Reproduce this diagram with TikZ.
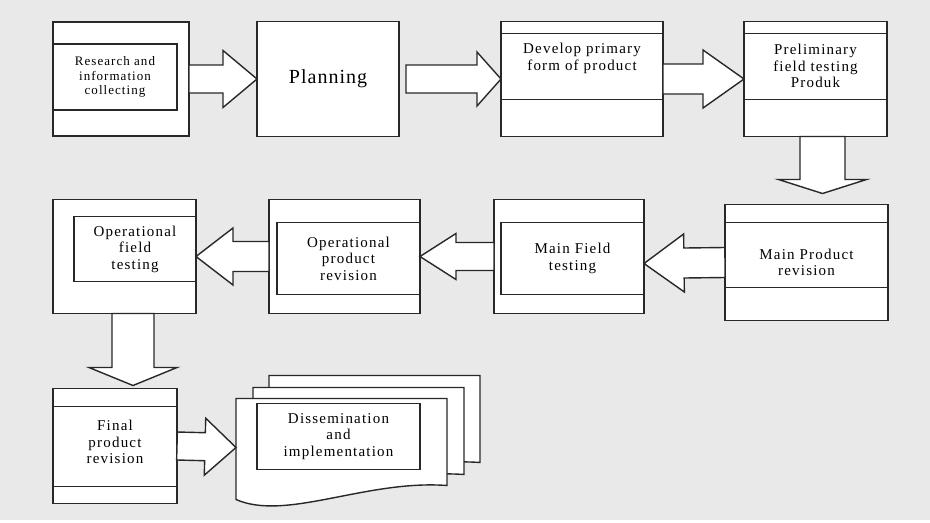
\documentclass[tikz,border=0pt]{standalone}
\usepackage{fontspec}
\newfontfamily\boxfont[LetterSpace=8]{Liberation Serif}
\newfontfamily\bigfont[LetterSpace=5]{Liberation Serif}
\usetikzlibrary{positioning,calc}

\definecolor{bggray}{RGB}{233,233,233}
\definecolor{linegray}{RGB}{40,40,40}

\tikzset{
  outer/.style={draw=linegray, fill=white, line width=1.4pt, inner sep=0pt, outer sep=0pt},
  inner/.style={draw=linegray, line width=1.4pt, inner sep=0pt, outer sep=0pt, align=center,
    font=\boxfont\fontsize{15}{16.5}\selectfont},
  txt/.style={align=center, inner sep=0pt, font=\boxfont\fontsize{15}{16.5}\selectfont},
  band/.style={draw=linegray, line width=1.4pt},
  fat/.style={draw=linegray, fill=white, line width=1.4pt, line join=miter},
  doc/.style={draw=linegray, fill=white, line width=1.4pt}
}

% block arrow: from, to, half shaft, half head, head length
\newcommand{\fatarrow}[5]{%
  \coordinate (fa) at ($(#2)!#5!(#1)$);
  \draw[fat] ($(#1)!#3!90:(#2)$) -- ($(fa)!#3!90:(#2)$) -- ($(fa)!#4!90:(#2)$) -- (#2)
    -- ($(fa)!#4!-90:(#2)$) -- ($(fa)!#3!-90:(#2)$) -- ($(#1)!#3!-90:(#2)$) -- cycle;
}

\begin{document}
\begin{tikzpicture}[x=1pt, y=1pt]
  \fill[bggray] (0,0) rectangle (930,-520);

  % top row
  \node[outer, minimum width=136pt, minimum height=114pt] (res) at (121,-79) {};
  \node[inner, minimum width=124pt, minimum height=66pt, anchor=north west,
    font=\boxfont\fontsize{13}{14.5}\selectfont] (restxt) at ([yshift=-22pt]res.north west)
    {Research and\\information\\collecting};
  \node[outer, minimum width=142pt, minimum height=115pt, right=68pt of res,
    font=\bigfont\fontsize{20}{24}\selectfont] (plan) {Planning};
  \node[outer, minimum width=162pt, minimum height=115pt, right=102pt of plan] (dev) {};
  \draw[band] ([yshift=-12pt]dev.north west) -- ([yshift=-12pt]dev.north east)
    ([yshift=37pt]dev.south west) -- ([yshift=37pt]dev.south east);
  \node[txt] (devtxt) at ([yshift=20.5pt]dev.center) {Develop primary\\form of product};
  \node[outer, minimum width=143pt, minimum height=115pt, right=81pt of dev] (pre) {};
  \draw[band] ([yshift=-12pt]pre.north west) -- ([yshift=-12pt]pre.north east)
    ([yshift=37pt]pre.south west) -- ([yshift=37pt]pre.south east);
  \node[txt] (pretxt) at ([yshift=13pt]pre.center) {Preliminary\\field testing\\Produk};

  % middle row
  \node[outer, minimum width=163pt, minimum height=116pt, below=68pt of pre, xshift=-9pt] (mp) {};
  \draw[band] ([yshift=-18pt]mp.north west) -- ([yshift=-18pt]mp.north east)
    ([yshift=33pt]mp.south west) -- ([yshift=33pt]mp.south east);
  \node[txt] (mptxt) at (mp.center) {Main Product\\revision};
  \node[outer, minimum width=150pt, minimum height=114pt, left=81pt of mp, yshift=6pt] (mf) {};
  \node[inner, minimum width=143pt, minimum height=72pt, anchor=north east] (mftxt)
    at ([yshift=-23pt]mf.north east) {Main Field\\testing};
  \node[outer, minimum width=151pt, minimum height=114pt, left=74pt of mf] (opr) {};
  \node[inner, minimum width=143pt, minimum height=72pt, anchor=north east] (oprtxt)
    at ([yshift=-23pt]opr.north east) {Operational\\product\\revision};
  \node[outer, minimum width=143pt, minimum height=114pt, left=73pt of opr] (oft) {};
  \node[inner, minimum width=122pt, minimum height=65pt, anchor=north east] (ofttxt)
    at ([yshift=-17pt]oft.north east) {Operational\\field\\testing};

  % bottom row
  \node[outer, minimum width=124pt, minimum height=115pt, below=75pt of oft, xshift=-9.5pt] (fin) {};
  \draw[band] ([yshift=-18pt]fin.north west) -- ([yshift=-18pt]fin.north east)
    ([yshift=17pt]fin.south west) -- ([yshift=17pt]fin.south east);
  \node[txt] (fintxt) at ([yshift=4pt]fin.center) {Final\\product\\revision};
  \coordinate[right=59pt of fin, yshift=-1.5pt] (docfront);
  \foreach \dx/\dy in {33/23, 17/11, 0/0}
    \draw[doc, shift={(docfront)}, xshift=\dx, yshift=\dy]
      (0,49) -- (211,49) -- (211,-38) .. controls (130,-32) and (50,-74) .. (0,-52) -- cycle;
  \node[inner, minimum width=163pt, minimum height=66pt] (distxt)
    at ([shift={(102.5,11)}]docfront) {Dissemination\\and\\implementation};

  % block arrows
  \fatarrow{res.east}{plan.west}{14pt}{28.5pt}{34pt}
  \fatarrow{[xshift=7pt]plan.east}{dev.west}{14pt}{27pt}{24pt}
  \fatarrow{dev.east}{pre.west}{15pt}{29pt}{41pt}
  \fatarrow{[xshift=7pt]pre.south}{[xshift=16pt,yshift=11pt]mp.north}{22.5pt}{44pt}{14pt}
  \fatarrow{mp.west}{[yshift=-7pt]mf.east}{15pt}{29pt}{40pt}
  \fatarrow{mf.west}{opr.east}{14pt}{23pt}{36pt}
  \fatarrow{opr.west}{oft.east}{15pt}{28.5pt}{37pt}
  \fatarrow{[xshift=8.5pt]oft.south}{[xshift=18pt,yshift=3pt]fin.north}{21pt}{44pt}{18pt}
  \fatarrow{fin.east}{docfront}{14pt}{28.5pt}{31pt}
\end{tikzpicture}
\end{document}
